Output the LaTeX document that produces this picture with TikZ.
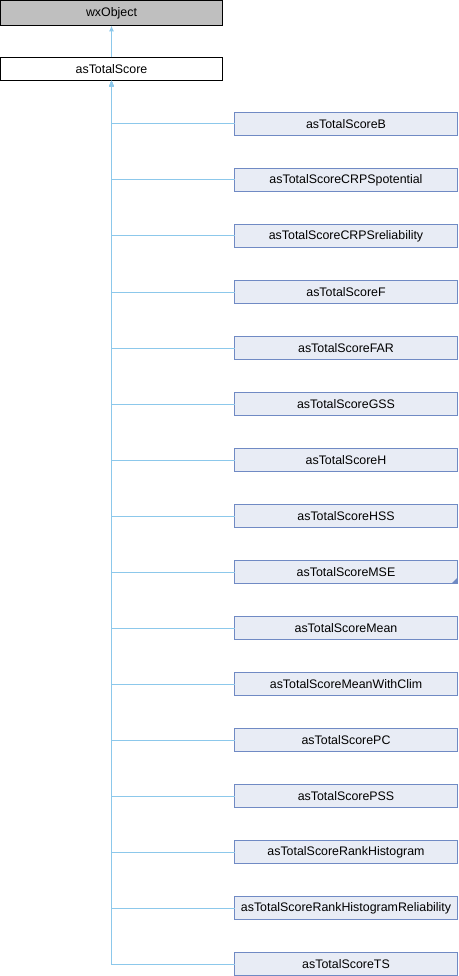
\documentclass[tikz,border=0pt]{standalone}
\usepackage{fontspec}
\setmainfont{Liberation Sans}
\usepackage{tikz}
\usetikzlibrary{arrows.meta,positioning}

\definecolor{edgeblue}{RGB}{140,200,235}
\definecolor{childfill}{RGB}{232,236,245}
\definecolor{childdraw}{RGB}{112,138,196}
\definecolor{basefill}{RGB}{191,191,191}

\begin{document}
\begin{tikzpicture}[x=1pt, y=1pt, >={Latex[length=6pt,width=5pt]}, node distance=33pt]
        \tikzset{classbox/.style={rectangle, draw=black, align=center, minimum width=222pt, minimum height=23pt, inner sep=0pt, outer sep=0pt, font=\fontsize{12.4}{14}\selectfont}, basebox/.style={classbox, fill=basefill, minimum height=25pt}, childbox/.style={classbox, draw=childdraw, fill=childfill, minimum width=223pt}, edge/.style={draw=edgeblue, line width=1pt}}
        \useasboundingbox (0,0) rectangle (458,-976);
        \node[basebox, anchor=north west] (wx) at (0.5,-0.5) {wxObject};
        \node[classbox, below=32pt of wx] (total) {asTotalScore};
        \node[childbox, below right=32pt and 12pt of total.south east] (b) {asTotalScoreB};
        \node[childbox, below=of b] (crpspot) {asTotalScoreCRPSpotential};
        \node[childbox, below=of crpspot] (crpsrel) {asTotalScoreCRPSreliability};
        \node[childbox, below=of crpsrel] (f) {asTotalScoreF};
        \node[childbox, below=of f] (far) {asTotalScoreFAR};
        \node[childbox, below=of far] (gss) {asTotalScoreGSS};
        \node[childbox, below=of gss] (h) {asTotalScoreH};
        \node[childbox, below=of h] (hss) {asTotalScoreHSS};
        \node[childbox, below=of hss] (mse) {asTotalScoreMSE};
        \node[childbox, below=of mse] (mean) {asTotalScoreMean};
        \node[childbox, below=of mean] (meanclim) {asTotalScoreMeanWithClim};
        \node[childbox, below=of meanclim] (pc) {asTotalScorePC};
        \node[childbox, below=of pc] (pss) {asTotalScorePSS};
        \node[childbox, below=of pss] (rankhist) {asTotalScoreRankHistogram};
        \node[childbox, below=of rankhist] (rankhistrel) {asTotalScoreRankHistogramReliability};
        \node[childbox, below=of rankhistrel] (ts) {asTotalScoreTS};
        % more derived classes not shown
        \fill[childdraw] (mse.south east) ++(-0.5,0.5) -- ++(0,5) -- ++(-5,-5) -- cycle;
        \draw[edge, ->] (total) -- (wx);
        \draw[edge, <-] (total.south) |- (b.west);
        \draw[edge, <-] (total.south) |- (crpspot.west);
        \draw[edge, <-] (total.south) |- (crpsrel.west);
        \draw[edge, <-] (total.south) |- (f.west);
        \draw[edge, <-] (total.south) |- (far.west);
        \draw[edge, <-] (total.south) |- (gss.west);
        \draw[edge, <-] (total.south) |- (h.west);
        \draw[edge, <-] (total.south) |- (hss.west);
        \draw[edge, <-] (total.south) |- (mse.west);
        \draw[edge, <-] (total.south) |- (mean.west);
        \draw[edge, <-] (total.south) |- (meanclim.west);
        \draw[edge, <-] (total.south) |- (pc.west);
        \draw[edge, <-] (total.south) |- (pss.west);
        \draw[edge, <-] (total.south) |- (rankhist.west);
        \draw[edge, <-] (total.south) |- (rankhistrel.west);
        \draw[edge, <-] (total.south) |- (ts.west);
    \end{tikzpicture}
\end{document}
